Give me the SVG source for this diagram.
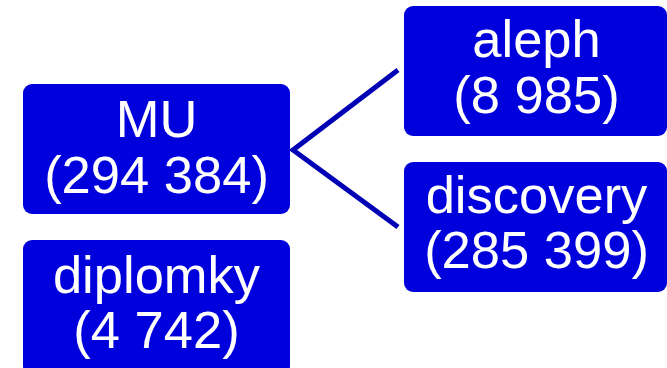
<svg xmlns="http://www.w3.org/2000/svg" width="667" height="368" viewBox="0 0 667 368">
<style>
.box{fill:#0000DC;}
.t{font-family:"Liberation Sans",Arial,sans-serif;font-size:52.5px;fill:#fff;text-anchor:middle;}
.c{stroke:#0000B4;stroke-width:5;fill:none;stroke-linejoin:miter;}
</style>
<rect width="667" height="368" fill="#fff"/>
<g id="connectors">
<polyline class="c" points="398,70 293,150 398,227"/>
</g>
<g id="mu">
<rect class="box" x="23" y="84" width="267" height="130" rx="9"/>
<text class="t" x="156.5" y="137">MU</text>
<text class="t" x="156.5" y="193">(294 384)</text>
</g>
<g id="aleph">
<rect class="box" x="404" y="6" width="263" height="130" rx="9"/>
<text class="t" x="536.5" y="57">aleph</text>
<text class="t" x="536.5" y="113">(8 985)</text>
</g>
<g id="discovery">
<rect class="box" x="404" y="162" width="263" height="130" rx="9"/>
<text class="t" x="536.5" y="213">discovery</text>
<text class="t" x="536.5" y="268">(285 399)</text>
</g>
<g id="diplomky">
<rect class="box" x="23" y="240" width="267" height="135" rx="9"/>
<text class="t" x="156.5" y="293">diplomky</text>
<text class="t" x="156.5" y="348">(4 742)</text>
</g>
</svg>
